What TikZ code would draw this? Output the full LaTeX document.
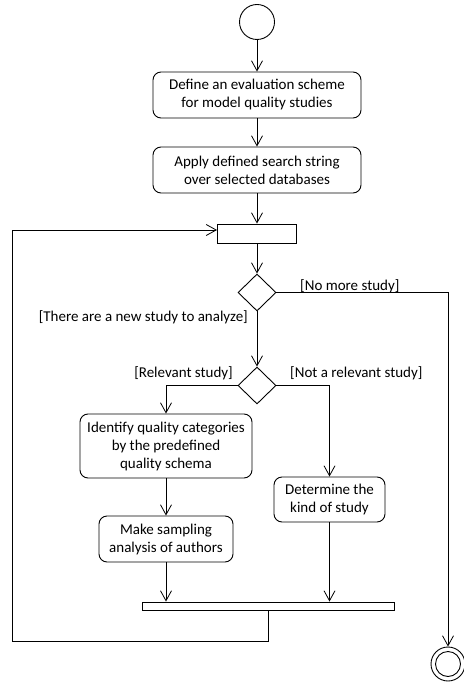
\documentclass[tikz,border=0pt]{standalone}
\usepackage{fontspec}
\setmainfont{Carlito}
\usetikzlibrary{shapes.geometric,arrows.meta}
\begin{document}
\begin{tikzpicture}[x=1pt,y=-1pt,
  every node/.style={font=\fontsize{15}{18}\selectfont},
  action/.style={draw, line width=0.9pt, rounded corners=8pt, align=center, inner sep=0pt},
  bar/.style={draw, line width=0.9pt, fill=white, inner sep=0pt},
  decision/.style={draw, line width=0.9pt, diamond, inner sep=0pt, minimum width=38pt, minimum height=37pt},
  guard/.style={inner sep=0pt},
  flow/.style={line width=0.8pt, -{Straight Barb[length=10pt,width=11pt,line width=0.8pt]}},
  plain/.style={line width=0.8pt}]
\useasboundingbox (0,0) rectangle (463,684);

% initial node
\node[draw, circle, line width=0.9pt, minimum size=35pt, inner sep=0pt] (start) at (257,22) {};

% actions
\node[action, minimum width=208pt, minimum height=46pt] (a1) at (257,95)
  {Define an evaluation scheme\\for model quality studies};
\node[action, minimum width=208pt, minimum height=46pt] (a2) at (257,170)
  {Apply defined search string\\over selected databases};

% merge bar and decisions
\node[bar, minimum width=79pt, minimum height=19pt] (fork) at (257,233.5) {};
\node[decision] (d1) at (257,292.5) {};
\node[decision] (d2) at (257,385.5) {};

\node[action, minimum width=172pt, minimum height=64pt] (a3) at (166,446)
  {Identify quality categories\\by the predefined\\quality schema};
\node[action, minimum width=111pt, minimum height=45pt] (a4) at (329.5,499.5)
  {Determine the\\kind of study};
\node[action, minimum width=134pt, minimum height=46pt] (a5) at (166,539)
  {Make sampling\\analysis of authors};

% join bar
\node[bar, minimum width=252pt, minimum height=8pt] (join) at (268,606) {};

% final node
\node[draw, circle, line width=0.9pt, minimum size=34pt, inner sep=0pt] (end) at (448,664) {};
\node[draw, circle, line width=0.9pt, minimum size=25pt, inner sep=0pt] (endin) at (448,664) {};

% guards
\node[guard, anchor=west] (gNoMore) at (300,286) {[No more study]};
\node[guard, anchor=east] (gNew) at (248,317) {[There are a new study to analyze]};
\node[guard, anchor=east] (gRel) at (233,373) {[Relevant study]};
\node[guard, anchor=west] (gNotRel) at (290,373) {[Not a relevant study]};

% loop-back coordinates
\coordinate (loopIn) at (217,230);
\coordinate (loopCorner) at (12,641);

% control flow
\draw[flow] (start) -- (a1);
\draw[flow] (a1) -- (a2);
\draw[flow] (a2) -- (fork);
\draw[flow] (fork) -- (d1);
\draw[flow] (d1) -- (d2);
\draw[flow] (d1.east) -| (end.north);
\draw[flow] (d2.west) -| (a3.north);
\draw[flow] (d2.east) -| (a4.north);
\draw[flow] (a3) -- (a5);
\draw[flow] (a5.south) -- (a5.south |- join.north);
\draw[flow] (a4.south) -- (a4.south |- join.north);
\draw[flow] (join.south) |- (loopCorner) |- (loopIn);
\end{tikzpicture}
\end{document}
